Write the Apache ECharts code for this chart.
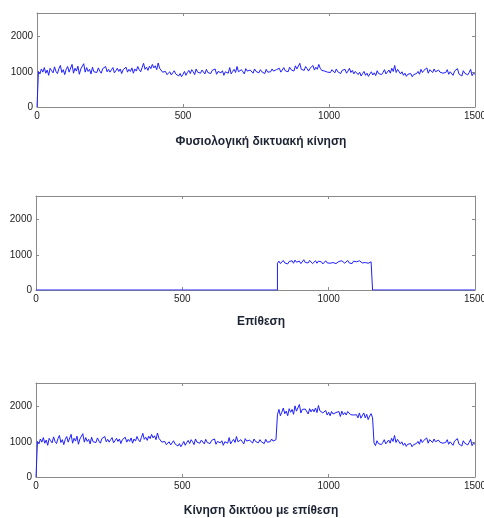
<!DOCTYPE html>
<html>
<head>
<meta charset="utf-8">
<script src="https://cdn.jsdelivr.net/npm/echarts@6/dist/echarts.min.js"></script>
<style>
html,body{margin:0;padding:0;background:#fff;}
#c{width:484px;height:518px;}
</style>
</head>
<body>
<div id="c"></div>
<script>
// ---- data (sample step 5 on x, 0..1500) ----
const titles = ['Φυσιολογική δικτυακή κίνηση', 'Επίθεση', 'Κίνηση δικτύου με επίθεση'];
const xStep = 5;
const xMax = 1500;
const yMax = 2670;
const baseline = [
  0, 1010, 940, 1080, 990, 1120, 960, 1050, 900, 1100, 1030, 970, 1140, 1010, 950, 1090, 1180, 980, 1060, 920,
  1070, 1150, 990, 1040, 1210, 960, 1100, 1020, 1160, 930, 1080, 1050, 1230, 990, 1120, 1010, 1070, 940, 1130, 1000,
  1050, 980, 1110, 1020, 960, 1090, 1040, 1150, 1000, 1070, 990, 1060, 1120, 970, 1030, 1100, 1010, 1080, 950, 1060,
  1040, 1130, 990, 1070, 1010, 1110, 960, 1080, 1020, 1150, 1060, 1000, 1120, 1240, 1070, 1130, 1040, 1160, 1090, 1210,
  1110, 1170, 1060, 1250, 1100, 1130, 990, 940, 1010, 920, 960, 1000, 910, 970, 1030, 940, 990, 880, 950, 860,
  930, 1010, 900, 980, 1040, 950, 1060, 1000, 920, 1080, 990, 1030, 960, 1050, 1010, 940, 1070, 980, 1020, 950,
  1040, 990, 1080, 930, 1010, 1060, 970, 1030, 900, 1000, 1050, 960, 1120, 940, 1010, 1070, 980, 1150, 1000, 960,
  1060, 1000, 940, 1090, 1020, 980, 1050, 1000, 960, 1080, 1010, 1040, 970, 1060, 1000, 1030, 950, 1070, 990, 1040,
  1000, 1080, 1020, 970, 1060, 1010, 1100, 990, 1050, 1120, 1030, 1070, 1000, 1130, 1060, 1090, 1020, 1170, 1080, 1110,
  1240, 1070, 1120, 1040, 1150, 1090, 1020, 1100, 1060, 1180, 1050, 1130, 1070, 1210, 1100, 1040, 1080, 1020, 1060, 990,
  1030, 980, 1060, 1010, 970, 1080, 1000, 1050, 950, 1040, 990, 1070, 960, 1020, 1100, 980, 1040, 940, 1010, 970,
  920, 990, 880, 950, 1010, 900, 960, 870, 940, 1000, 910, 970, 890, 1030, 950, 1000, 920, 980, 1060, 940,
  990, 1050, 960, 1100, 1010, 1180, 980, 1070, 1020, 940, 1000, 900, 960, 870, 930, 890, 950, 860, 920, 900,
  950, 1010, 930, 1070, 980, 1040, 1000, 1110, 960, 1060, 1020, 980, 1080, 1000, 950, 1050, 990, 1030, 960, 1010,
  980, 1060, 930, 1000, 1050, 900, 1020, 970, 1090, 940, 990, 880, 1030, 960, 1000, 910, 980, 1070, 890, 960,
  930
];
const attackStart = 825;
const attack = [
  760, 820, 750, 790, 840, 770, 800, 740, 810, 780, 830, 760, 850, 790, 770, 820, 750, 800, 860, 780,
  810, 770, 840, 790, 750, 800, 830, 760, 820, 780, 800, 740, 790, 830, 770, 810, 760, 800, 780, 820,
  750, 790, 810, 770, 830, 780, 760, 800, 840, 770, 790, 750, 820, 780, 800, 760, 830, 790, 770, 810,
  780, 820, 760, 790, 800, 770
];

// ---- build series from the arrays ----
const attackEnd = attackStart + (attack.length - 1) * xStep;
const baseData = baseline.map((v, i) => [i * xStep, v]);
const attackData = [[0, 0], [attackStart, 0]]
  .concat(attack.map((v, i) => [attackStart + i * xStep, v]))
  .concat([[attackEnd, 0], [xMax, 0]]);
const combData = baseline.map((v, i) => {
  const x = i * xStep;
  const j = (x - attackStart) / xStep;
  const a = (j >= 0 && j < attack.length) ? attack[j] : 0;
  return [x, v + a];
});

const grids = [
  {left: 37, top: 13, width: 438, height: 94, containLabel: false, outerBoundsMode: 'none'},
  {left: 36, top: 196, width: 439, height: 94, containLabel: false, outerBoundsMode: 'none'},
  {left: 36, top: 383, width: 439, height: 94, containLabel: false, outerBoundsMode: 'none'}
];
const titleY = [131, 311, 500];

const axisColor = '#8a8a8a';
const labelStyle = {color: '#222', fontSize: 10, fontFamily: 'Liberation Sans, Arial, sans-serif'};
const xAxes = [], yAxes = [], series = [];
const datas = [baseData, attackData, combData];
grids.forEach((g, k) => {
  const common = {
    gridIndex: k,
    axisLine: {show: true, onZero: false, lineStyle: {color: axisColor, width: 1}},
    axisTick: {show: true, inside: true, length: 3, lineStyle: {color: axisColor}},
    splitLine: {show: false}
  };
  xAxes.push(Object.assign({}, common, {
    type: 'value', position: 'bottom', min: 0, max: xMax, interval: 500,
    axisLabel: Object.assign({margin: 4, formatter: v => String(v)}, labelStyle)
  }));
  xAxes.push(Object.assign({}, common, {
    type: 'value', position: 'top', min: 0, max: xMax, interval: 500,
    axisLabel: {show: false}
  }));
  yAxes.push(Object.assign({}, common, {
    type: 'value', position: 'left', min: 0, max: yMax, interval: 1000,
    axisLabel: Object.assign({margin: 4, formatter: v => (v % 1000 === 0 ? String(v) : '')}, labelStyle)
  }));
  yAxes.push(Object.assign({}, common, {
    type: 'value', position: 'right', min: 0, max: yMax, interval: 1000,
    axisLabel: {show: false}
  }));
  series.push({
    type: 'line',
    xAxisIndex: 2 * k,
    yAxisIndex: 2 * k,
    data: datas[k],
    showSymbol: false,
    symbol: 'none',
    lineStyle: {color: '#1e1eff', width: 1},
    silent: true,
    animation: false
  });
});

const chart = echarts.init(document.getElementById('c'), null, {renderer: 'canvas'});
chart.setOption({
  backgroundColor: '#fff',
  animation: false,
  title: titles.map((t, k) => ({
    text: t,
    left: 256,
    top: titleY[k],
    textAlign: 'center',
    textStyle: {fontSize: 12, fontWeight: 'bold', color: '#1c2333', fontFamily: 'Liberation Sans, Arial, sans-serif'}
  })),
  grid: grids,
  xAxis: xAxes,
  yAxis: yAxes,
  series: series
});
</script>
</body>
</html>
